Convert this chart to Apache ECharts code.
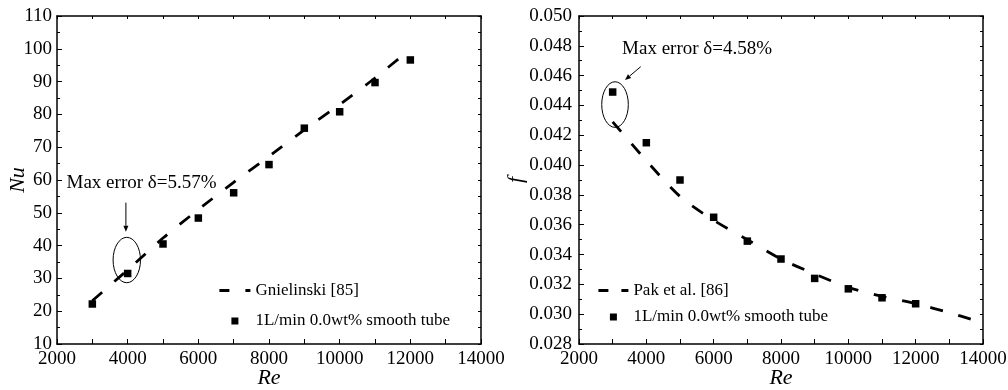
<!DOCTYPE html>
<html>
<head>
<meta charset="utf-8">
<script src="https://cdn.jsdelivr.net/npm/echarts@6/dist/echarts.min.js"></script>
<style>
  html, body { margin: 0; padding: 0; background: #fff; }
  #chart { width: 1008px; height: 390px; }
</style>
</head>
<body>
<div id="chart"></div>
<script>
// Reynolds numbers of the measured points
const reMeasured = [3000, 4000, 5000, 6000, 7000, 8000, 9000, 10000, 11000, 12000];

// Nusselt number, measured (1L/min, 0.0wt%, smooth tube)
const nuMeasured = [22.2, 31.5, 40.5, 48.4, 56.1, 64.7, 75.8, 80.8, 89.7, 96.6];

// Gnielinski correlation curve
const reGnielinski = [3000, 4000, 5000, 6000, 7000, 8000, 9000, 10000, 11000, 12000];
const nuGnielinski = [23.2, 32.6, 42.3, 51.0, 59.3, 67.2, 75.3, 83.0, 91.1, 99.9];

// Friction factor, measured
const fMeasured = [0.0449, 0.0415, 0.0390, 0.0365, 0.0349, 0.0337, 0.0324, 0.0317, 0.0311, 0.0307];

// Pak et al. correlation curve
const rePak = [3000, 4000, 5000, 6000, 7000, 8000, 9000, 10000, 11000, 12000, 13000, 13800];
const fPak = [0.0429, 0.0403, 0.0379, 0.0363, 0.0350, 0.0337, 0.0327, 0.0318, 0.0312, 0.0307, 0.0301, 0.02955];

const seriesNames = ['Gnielinski [85]', 'Pak et al. [86]', '1L/min 0.0wt% smooth tube'];

const FONT = "'Liberation Serif', 'Times New Roman', serif";
const INK = '#000';
// unit square, keeps its aspect inside the legend icon box
const SQUARE_ICON = 'path://M0,0H10V10H0Z';

const zip = (xs, ys) => xs.map((x, i) => [x, ys[i]]);

function xMain(gridIndex) {
  return {
    type: 'value', gridIndex, position: 'bottom',
    min: 2000, max: 14000, interval: 2000,
    name: 'Re', nameLocation: 'middle', nameGap: 23, nameMoveOverlap: false,
    nameTextStyle: { fontFamily: FONT, fontSize: 22, fontStyle: 'italic', color: INK },
    axisLine: { show: true, onZero: false, lineStyle: { color: INK, width: 1.5 } },
    axisTick: { show: true, inside: true, length: 5, lineStyle: { color: INK, width: 1 } },
    minorTick: { show: true, splitNumber: 2, length: 5, lineStyle: { color: INK, width: 1 } },
    axisLabel: { color: INK, fontFamily: FONT, fontSize: 19, margin: 6, formatter: v => String(v) },
    splitLine: { show: false }
  };
}
function xMirror(gridIndex) {
  return {
    type: 'value', gridIndex, position: 'top',
    min: 2000, max: 14000, interval: 1000,
    axisLine: { show: true, onZero: false, lineStyle: { color: INK, width: 1.5 } },
    axisTick: { show: true, inside: true, length: 3, lineStyle: { color: INK, width: 1 } },
    axisLabel: { show: false },
    splitLine: { show: false }
  };
}
function yMain(gridIndex, min, max, interval, name, nameGap, margin, fmt) {
  return {
    type: 'value', gridIndex, position: 'left',
    min, max, interval,
    name, nameLocation: 'middle', nameGap, nameMoveOverlap: false,
    nameTextStyle: { fontFamily: FONT, fontSize: 22, fontStyle: 'italic', color: INK },
    axisLine: { show: true, onZero: false, lineStyle: { color: INK, width: 1.5 } },
    axisTick: { show: true, inside: true, length: 5, lineStyle: { color: INK, width: 1 } },
    minorTick: { show: true, splitNumber: 2, length: 3, lineStyle: { color: INK, width: 1 } },
    axisLabel: { color: INK, fontFamily: FONT, fontSize: 19, margin, formatter: fmt },
    splitLine: { show: false }
  };
}
function yMirror(gridIndex, min, max, interval) {
  return {
    type: 'value', gridIndex, position: 'right',
    min, max, interval,
    axisLine: { show: true, onZero: false, lineStyle: { color: INK, width: 1.5 } },
    axisTick: { show: true, inside: true, length: 3, lineStyle: { color: INK, width: 1 } },
    axisLabel: { show: false },
    splitLine: { show: false }
  };
}

function legendBox(left, top, gap, lineName, dash, width) {
  return {
    orient: 'vertical', left, top, itemGap: gap, padding: 0,
    itemWidth: width, itemHeight: 7,
    selectedMode: false, symbolKeepAspect: true,
    data: [
      { name: lineName, itemStyle: { color: 'rgba(0,0,0,0)', borderWidth: 0 },
        lineStyle: { type: dash, width: 2.8, color: INK } },
      { name: seriesNames[2], icon: SQUARE_ICON, itemStyle: { color: INK, opacity: 1 } }
    ],
    textStyle: { fontFamily: FONT, fontSize: 17, color: INK }
  };
}

const option = {
  animation: false,
  backgroundColor: '#fff',
  grid: [
    { left: 57, right: 527, top: 16, bottom: 46, outerBoundsMode: 'none' },
    { left: 579, right: 25, top: 16, bottom: 46, outerBoundsMode: 'none' }
  ],
  xAxis: [xMain(0), xMirror(0), xMain(1), xMirror(1)],
  yAxis: [
    yMain(0, 10, 110, 10, 'Nu', 28, 5, v => String(v)),
    yMirror(0, 10, 110, 5),
    yMain(1, 0.028, 0.050, 0.002, 'f', 52, 7, v => v.toFixed(3)),
    yMirror(1, 0.028, 0.050, 0.001)
  ],
  legend: [
    legendBox(218, 282, 13.5, seriesNames[0], [10, 16], 31),
    legendBox(597, 282, 9.5, seriesNames[1], [10, 13], 30)
  ],
  series: [
    {
      name: seriesNames[0], type: 'line', xAxisIndex: 0, yAxisIndex: 0,
      data: zip(reGnielinski, nuGnielinski), symbol: 'none', smooth: 0.2,
      itemStyle: { color: 'rgba(0,0,0,0)' },
      lineStyle: { color: INK, width: 2.8, type: [13, 16] }, z: 2
    },
    {
      name: seriesNames[2], type: 'scatter', xAxisIndex: 0, yAxisIndex: 0,
      data: zip(reMeasured, nuMeasured), symbol: 'rect', symbolSize: 7.5,
      itemStyle: { color: INK, opacity: 1 }, z: 3
    },
    {
      name: seriesNames[1], type: 'line', xAxisIndex: 2, yAxisIndex: 2,
      data: zip(rePak, fPak), symbol: 'none', smooth: 0.3,
      itemStyle: { color: 'rgba(0,0,0,0)' },
      lineStyle: { color: INK, width: 2.8, type: [13, 16] }, z: 2
    },
    {
      name: seriesNames[2], type: 'scatter', xAxisIndex: 2, yAxisIndex: 2,
      data: zip(reMeasured, fMeasured), symbol: 'rect', symbolSize: 7.5,
      itemStyle: { color: INK, opacity: 1 }, z: 3
    }
  ]
};

const chart = echarts.init(document.getElementById('chart'), null, { renderer: 'canvas' });
chart.setOption(option);

// Annotation anchors, in data coordinates of each panel
const notes = [
  { series: 1, text: 'Max error \u03b4=5.57%', textAt: [2270, 59.1],
    ellipse: { at: [3975, 35.6], rx: 13.7, ry: 22.7 },
    arrow: { from: [3950, 53.1], to: [3950, 44.2] } },
  { series: 3, text: 'Max error \u03b4=4.58%', textAt: [3280, 0.04777],
    ellipse: { at: [3070, 0.04406], rx: 13.3, ry: 22.8 },
    arrow: { from: [3833, 0.0466], to: [3366, 0.04571] } }
];

function arrowShapes(p0, p1) {
  const dx = p1[0] - p0[0], dy = p1[1] - p0[1];
  const len = Math.hypot(dx, dy);
  const ux = dx / len, uy = dy / len;
  const head = 6, half = 2.5;
  const bx = p1[0] - ux * head, by = p1[1] - uy * head;
  return [
    { type: 'line', silent: true, z: 10,
      shape: { x1: p0[0], y1: p0[1], x2: bx, y2: by },
      style: { stroke: INK, lineWidth: 1 } },
    { type: 'polygon', silent: true, z: 10,
      shape: { points: [[p1[0], p1[1]], [bx - uy * half, by + ux * half], [bx + uy * half, by - ux * half]] },
      style: { fill: INK } }
  ];
}

const graphics = [];
notes.forEach(n => {
  const finder = { seriesIndex: n.series };
  const t = chart.convertToPixel(finder, n.textAt);
  graphics.push({ type: 'text', silent: true, z: 10, x: t[0], y: t[1],
    style: { text: n.text, font: '19px ' + FONT, fill: INK, align: 'left', verticalAlign: 'middle' } });
  const c = chart.convertToPixel(finder, n.ellipse.at);
  graphics.push({ type: 'ellipse', silent: true, z: 10,
    shape: { cx: c[0], cy: c[1], rx: n.ellipse.rx, ry: n.ellipse.ry },
    style: { fill: 'none', stroke: INK, lineWidth: 1 } });
  const a0 = chart.convertToPixel(finder, n.arrow.from);
  const a1 = chart.convertToPixel(finder, n.arrow.to);
  arrowShapes(a0, a1).forEach(g => graphics.push(g));
});
chart.setOption({ graphic: graphics });
</script>
</body>
</html>
